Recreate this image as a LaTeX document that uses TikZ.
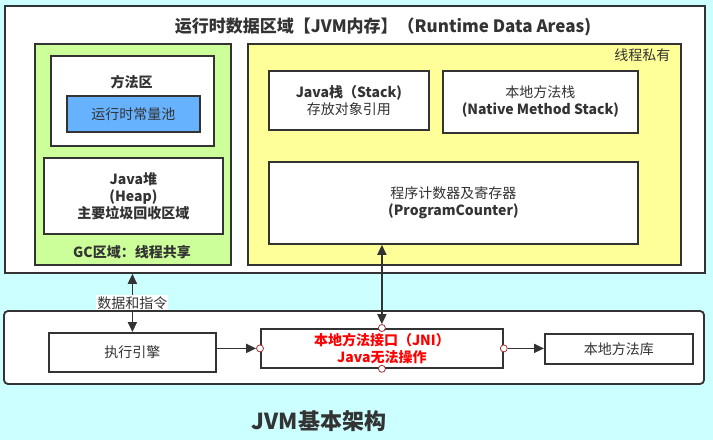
\documentclass[tikz,border=0pt]{standalone}
\usepackage{fontspec}
\setmainfont{Noto Sans CJK SC}
\usetikzlibrary{arrows.meta}
\definecolor{bgcyan}{HTML}{CCFFFF}
\definecolor{gcgreen}{HTML}{CCFF99}
\definecolor{ownyellow}{HTML}{FFFF99}
\definecolor{poolblue}{HTML}{66B2FF}
\definecolor{linegray}{HTML}{333333}
\definecolor{portred}{HTML}{993333}
\newcommand{\txt}{\fontsize{14}{17}\selectfont}

\begin{document}
\begin{tikzpicture}[x=1pt, y=-1pt, text=linegray,
                    area/.style={draw=linegray, line width=1.8pt, anchor=north west,
                                 inner sep=0pt, align=center, font=\txt},
                    port/.style={circle, draw=portred, fill=white, line width=0.8pt,
                                 minimum size=7pt, inner sep=0pt},
                    link/.style={draw=linegray, line width=1.8pt,
                                 -{Triangle[length=10pt, width=9pt]}},
                    twoway/.style={draw=linegray, line width=1.8pt,
                                   {Triangle[length=10pt, width=9pt]}-{Triangle[length=10pt, width=9pt]}}]

    \fill[bgcyan] (0, 0) rectangle (713, 440);

    \node[area, fill=white, minimum width=700pt, minimum height=267pt] (outer) at (4, 5) {};
    \node[font=\fontsize{17}{20}\selectfont\bfseries] (title) at (383, 27)
        {运行时数据区域【JVM内存】（Runtime Data Areas)};

    \node[area, fill=gcgreen, minimum width=196pt, minimum height=221pt] (shared) at (34, 43) {};
    \node[area, fill=white, minimum width=163pt, minimum height=90pt] (method) at (50, 55) {};
    \node[font=\txt\bfseries] (methodname) at (131.5, 82) {方法区};
    \node[area, fill=poolblue, minimum width=133pt, minimum height=36pt] (pool) at (66, 95) {运行时常量池};
    \node[area, fill=white, minimum width=179pt, minimum height=76pt, font=\txt\bfseries] (heap) at (43, 157)
        {Java堆\\(Heap)\\主要垃圾回收区域};
    \node[font=\txt\bfseries] (gcname) at (132, 252) {GC区域：线程共享};

    \node[area, fill=ownyellow, minimum width=433pt, minimum height=221pt] (private) at (247, 43) {};
    \node[anchor=east, font=\txt] (privatename) at (674, 55) {线程私有};
    \node[area, fill=white, minimum width=160pt, minimum height=59pt] (jstack) at (268, 70)
        {\bfseries Java栈（Stack)\\存放对象引用};
    \node[area, fill=white, minimum width=195pt, minimum height=62pt] (nstack) at (442, 70)
        {本地方法栈\\\bfseries (Native Method Stack)};
    \node[area, fill=white, minimum width=369pt, minimum height=82pt] (pc) at (268, 161)
        {程序计数器及寄存器\\\bfseries (ProgramCounter)};

    \draw[draw=linegray, fill=white, line width=1.8pt, rounded corners=4pt] (4, 311) rectangle (704, 384);
    \node[area, fill=white, minimum width=167pt, minimum height=39pt] (exec) at (48, 332) {执行引擎};
    \node[area, fill=white, minimum width=242pt, minimum height=39pt, text=red, font=\txt\bfseries] (jni) at (260, 328)
        {本地方法接口（JNI）\\Java无法操作};
    \node[area, fill=white, minimum width=148pt, minimum height=30pt] (lib) at (544, 333) {本地方法库};

    \node[port] (pl) at (jni.west) {};
    \node[port] (pr) at (jni.east) {};
    \node[port] (pt) at (jni.north) {};
    \node[port] (pb) at (jni.south) {};

    \draw[link] (exec.east |- pl) -- (pl);
    \draw[link] (pr) -- (lib.west |- pr);
    \draw[twoway] (pt |- pc.south) -- (pt);
    \draw[twoway] (exec.north |- outer.south) -- node[fill=white, inner sep=1pt, font=\txt] (datalabel) {数据和指令} (exec.north);

    \node[font=\fontsize{22}{26}\selectfont\bfseries] (bottomtitle) at (319, 421) {JVM基本架构};
\end{tikzpicture}
\end{document}
